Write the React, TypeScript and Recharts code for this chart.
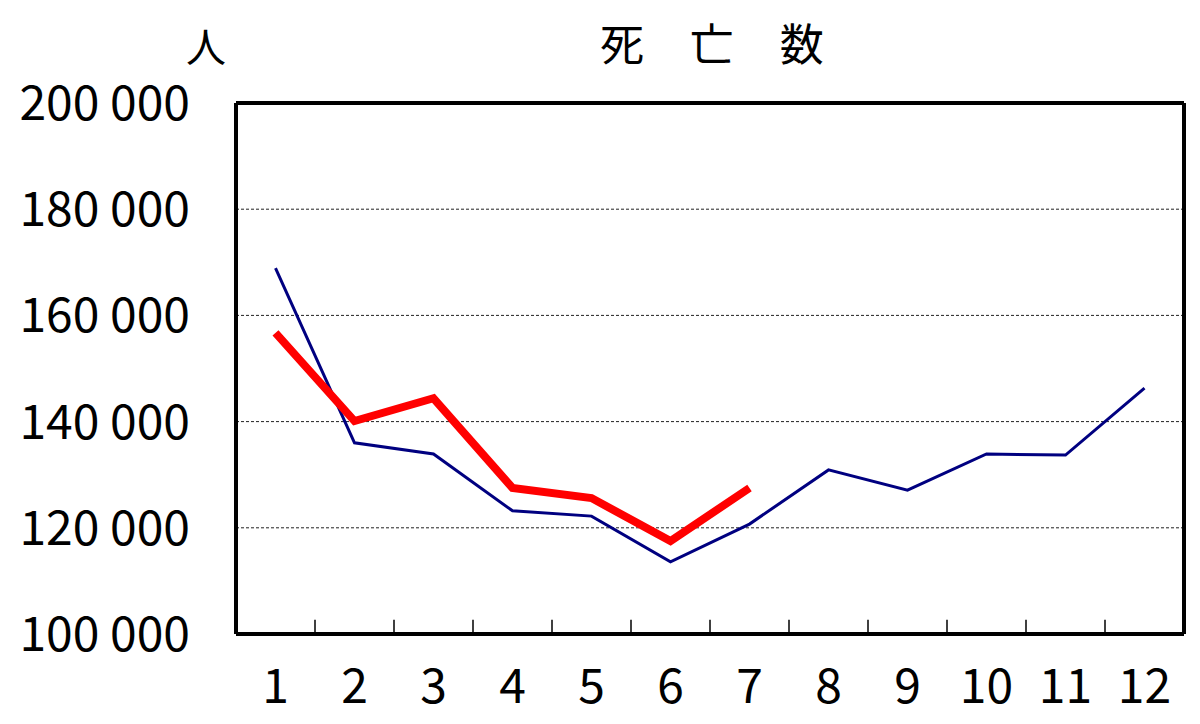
import { LineChart, Line, XAxis, YAxis, CartesianGrid, ReferenceLine } from "recharts";

const months = [1, 2, 3, 4, 5, 6, 7, 8, 9, 10, 11, 12];
const prevYear = [168900, 136000, 133900, 123200, 122200, 113600, 120700, 130900, 127100, 133900, 133700, 146300];
const thisYear = [156700, 140100, 144400, 127500, 125600, 117500, 127500];
const yTicks = [100000, 120000, 140000, 160000, 180000, 200000];

const data = months.map((m, i) => ({ month: m, prev: prevYear[i], cur: thisYear[i] }));
// inner tick marks sit between the months
const bounds = months.slice(0, -1).map((m) => m + 0.5);

const font = '"Noto Sans CJK JP", "Liberation Sans", sans-serif';
const fmt = (v: number) => `${Math.floor(v / 1000)} ${String(v % 1000).padStart(3, "0")}`;

export default function App() {
  return (
    <div style={{ position: "absolute", left: 0, top: 0, width: 1200, height: 724, background: "#fff", fontFamily: font }}>
      <div style={{ position: "absolute", left: 600, top: 14, fontSize: 44, lineHeight: "56px", letterSpacing: 18, whiteSpace: "pre" }}>
        死 亡 数
      </div>
      <div style={{ position: "absolute", left: 186, top: 20, fontSize: 40, lineHeight: "50px" }}>人</div>
      <LineChart width={1200} height={724} data={data} margin={{ top: 103, right: 16, bottom: 0, left: 0 }}>
        <CartesianGrid vertical={false} stroke="#222" strokeDasharray="3 2" strokeWidth={1} />
        <XAxis
          dataKey="month"
          type="number"
          domain={[0.5, 12.5]}
          ticks={months}
          height={90}
          tickLine={false}
          tickSize={0}
          tickMargin={35}
          axisLine={{ stroke: "#000", strokeWidth: 4 }}
          tick={{ fill: "#000", fontSize: 48, fontFamily: font }}
          interval={0}
        />
        <YAxis
          domain={[100000, 200000]}
          ticks={yTicks}
          width={236}
          tickLine={false}
          tickSize={0}
          tickMargin={46}
          axisLine={{ stroke: "#000", strokeWidth: 4 }}
          tickFormatter={fmt}
          tick={{ fill: "#000", fontSize: 48, fontFamily: font }}
          interval={0}
        />
        {bounds.map((b) => (
          <ReferenceLine key={b} segment={[{ x: b, y: 100000 }, { x: b, y: 102700 }]} stroke="#000" strokeWidth={1.5} />
        ))}
        <ReferenceLine y={200000} stroke="#000" strokeWidth={4} />
        <ReferenceLine x={12.5} stroke="#000" strokeWidth={4} />
        <Line dataKey="prev" stroke="#000080" strokeWidth={3} dot={false} isAnimationActive={false} />
        <Line dataKey="cur" stroke="#ff0000" strokeWidth={8} dot={false} isAnimationActive={false} />
      </LineChart>
    </div>
  );
}
